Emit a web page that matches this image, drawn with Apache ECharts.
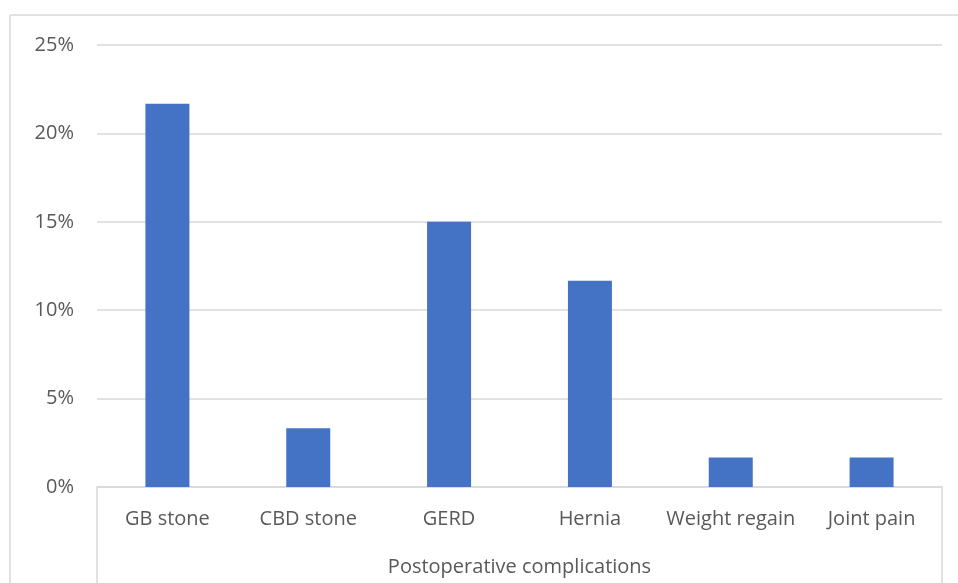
<!DOCTYPE html>
<html>
<head>
<meta charset="utf-8">
<script src="https://cdn.jsdelivr.net/npm/echarts@6/dist/echarts.min.js"></script>
<style>
  html, body { margin: 0; padding: 0; background: #fff; }
  #chart { width: 958px; height: 583px; }
</style>
</head>
<body>
<div id="chart"></div>
<script>
const categories = ['GB stone', 'CBD stone', 'GERD', 'Hernia', 'Weight regain', 'Joint pain'];
const values = [21.67, 3.33, 15.0, 11.67, 1.67, 1.67];
const axisTitle = 'Postoperative complications';

const FONT = '"Open Sans", sans-serif';
const TEXT = '#595959';
const LINE = '#d9d9d9';

const chart = echarts.init(document.getElementById('chart'));

chart.setOption({
  animation: false,
  grid: { left: 97, right: 16, top: 45, bottom: 96, containLabel: false },
  xAxis: {
    type: 'category',
    data: categories,
    axisLine: { lineStyle: { color: LINE, width: 1.5 } },
    axisTick: { show: false },
    axisLabel: { interval: 0, color: TEXT, fontFamily: FONT, fontSize: 20, margin: 22 },
    name: axisTitle,
    nameLocation: 'middle',
    nameGap: 70,
    nameTextStyle: { color: TEXT, fontFamily: FONT, fontSize: 20 }
  },
  yAxis: {
    type: 'value',
    min: 0,
    max: 25,
    interval: 5,
    axisLine: { show: false },
    axisTick: { show: false },
    axisLabel: { color: TEXT, fontFamily: FONT, fontSize: 20, margin: 23, formatter: '{value}%' },
    splitLine: { lineStyle: { color: LINE, width: 1.5 } }
  },
  series: [{
    type: 'bar',
    data: values,
    barWidth: 44,
    itemStyle: { color: '#4472c4' }
  }],
  graphic: [
    { type: 'line', shape: { x1: 10, y1: 15, x2: 958, y2: 15 }, style: { stroke: LINE, lineWidth: 1.5 } },
    { type: 'line', shape: { x1: 10, y1: 15, x2: 10, y2: 583 }, style: { stroke: LINE, lineWidth: 1.5 } },
    { type: 'line', shape: { x1: 97, y1: 487, x2: 97, y2: 583 }, style: { stroke: LINE, lineWidth: 1.5 } },
    { type: 'line', shape: { x1: 942, y1: 487, x2: 942, y2: 583 }, style: { stroke: LINE, lineWidth: 1.5 } }
  ]
});
</script>
</body>
</html>
